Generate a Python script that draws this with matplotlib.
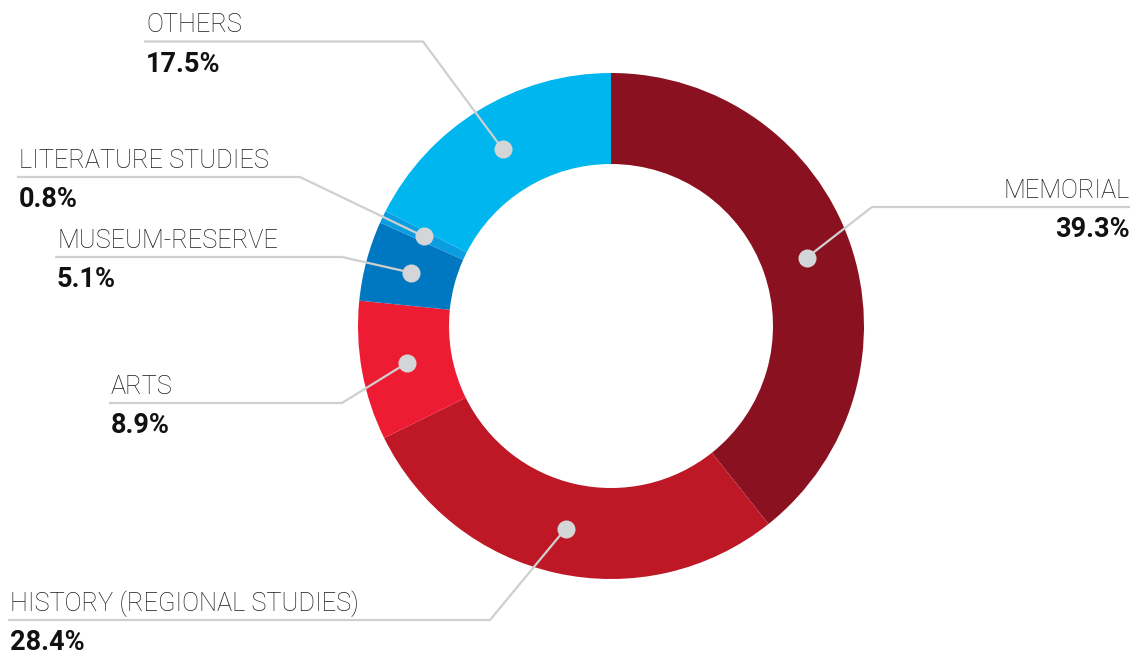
import numpy as np
import matplotlib
matplotlib.use("Agg")
import matplotlib.pyplot as plt

# data
categories = ["MEMORIAL", "HISTORY (REGIONAL STUDIES)", "ARTS", "MUSEUM-RESERVE",
              "LITERATURE STUDIES", "OTHERS"]
shares = [39.3, 28.4, 8.9, 5.1, 0.8, 17.5]
colors = ["#8A1220", "#BE1827", "#EE1C33", "#0078C1", "#0A9DE0", "#00B6EE"]

# label layout in image pixels (x of text, y of underline, x where the underline bends, alignment)
label_x = [1130, 10, 111, 57, 19, 146]
line_y = [207, 620, 403, 257, 177, 41.5]
bend_x = [872, 490, 342, 342, 300, 423]
align = ["right", "left", "left", "left", "left", "left"]

W, H = 1134, 654
cx, cy = 611, 326
r_out, r_in = 253, 162

fig = plt.figure(figsize=(W / 100, H / 100), dpi=100)
ax = fig.add_axes([0, 0, 1, 1])
ax.set_xlim(0, W)
ax.set_ylim(0, H)
ax.axis("off")

wedges, _ = ax.pie(shares, colors=colors, startangle=90, counterclock=False,
                   center=(cx, H - cy), radius=r_out,
                   wedgeprops=dict(width=r_out - r_in, linewidth=0))
ax.set_xlim(0, W)
ax.set_ylim(0, H)
ax.set_aspect("equal")

light = dict(family="Roboto", weight="light", size=18.3, color="#1a1a1a")
bold = dict(family="Roboto", weight="bold", size=19.5, color="#111111")
line_col = "#CFCFCF"
dot_col = "#D4D5D7"
r_mid = (r_out + r_in) / 2

for w, name, val, lx, ly, bx, ha in zip(wedges, categories, shares, label_x, line_y, bend_x, align):
    ang = np.deg2rad((w.theta1 + w.theta2) / 2)
    dx = cx + r_mid * np.cos(ang)
    dy = (H - cy) + r_mid * np.sin(ang)
    y = H - ly
    if ha == "left":
        x0, x1 = lx - 2, bx
    else:
        x0, x1 = lx, bx
    ax.plot([x0, x1, dx], [y, y, dy], color=line_col, lw=1.6, solid_capstyle="butt", zorder=3)
    ax.plot(dx, dy, "o", ms=13, color=dot_col, mec="none", zorder=4)
    ax.text(lx, y + 9, name, ha=ha, va="baseline", **light)
    ax.text(lx, y - 30, f"{val}%", ha=ha, va="baseline", **bold)

fig.savefig("out.png", dpi=100, facecolor="white")
